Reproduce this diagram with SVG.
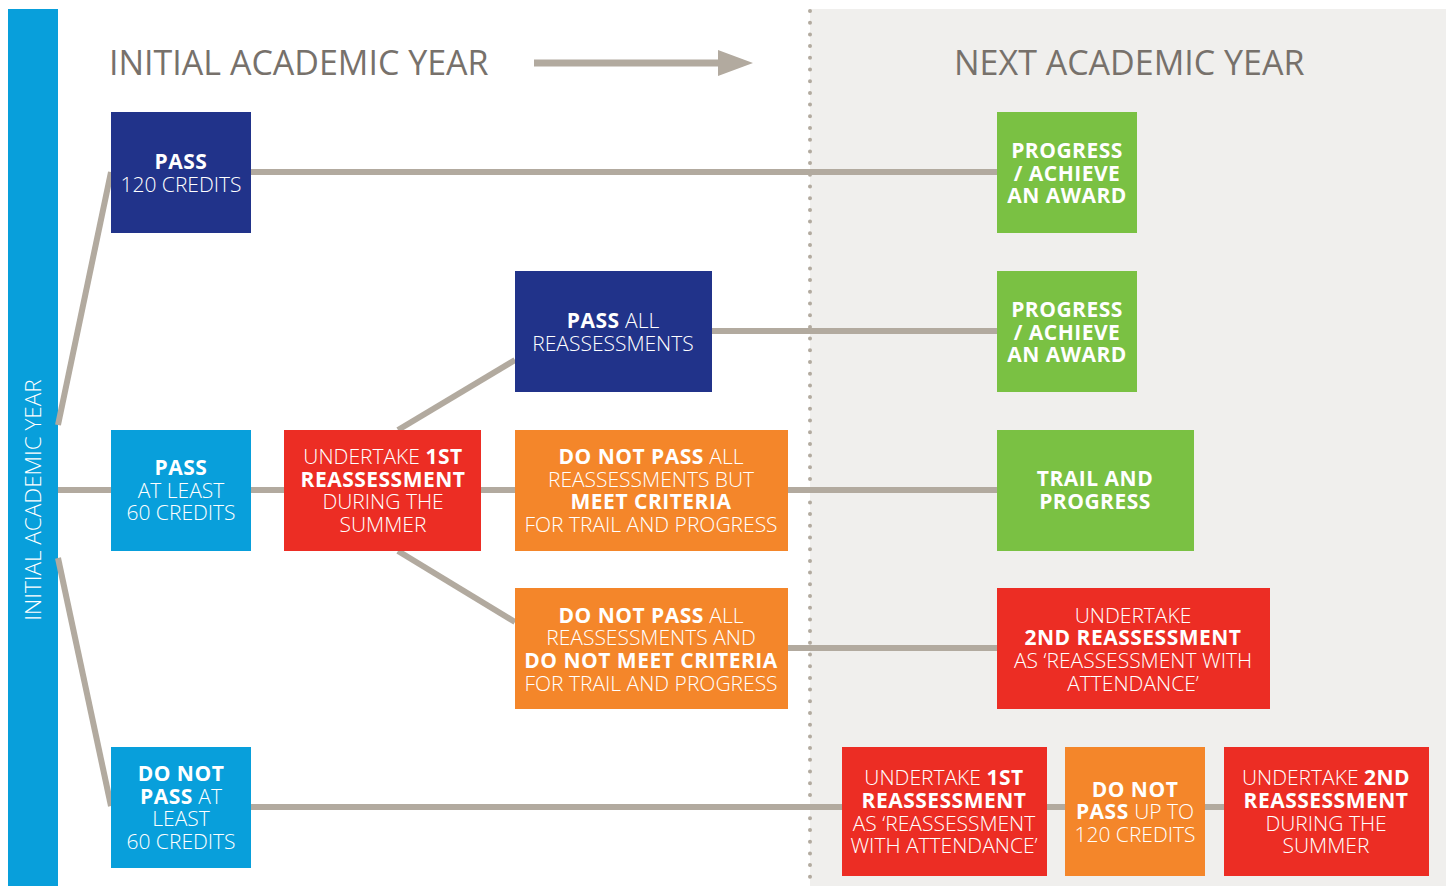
<svg xmlns="http://www.w3.org/2000/svg" width="1453" height="886" viewBox="0 0 1453 886">
<style>
.t{font-family:"Open Sans","Noto Sans","Liberation Sans",sans-serif;font-size:21px;fill:#fff;text-anchor:middle;font-weight:300}
.b{font-weight:700;letter-spacing:0.5px}
.h{font-family:"Open Sans","Noto Sans","Liberation Sans",sans-serif;font-size:34px;fill:#77716b;font-weight:400}
.ln{stroke:#b2aa9f;stroke-width:6;fill:none}
.navy{fill:#21338a}.blue{fill:#089fdb}.red{fill:#ec2d24}.orange{fill:#f4862a}.green{fill:#7ac143}
</style>
<rect width="1453" height="886" fill="#fff"/>
<rect x="810" y="9" width="636" height="877" fill="#f0efed"/>
<line x1="810" y1="11" x2="810" y2="886" stroke="#b2aa9f" stroke-width="4" stroke-linecap="round" stroke-dasharray="0 11.7"/>
<g id="sidebar">
<rect x="8" y="9" width="50" height="877" class="blue"/>
<text class="t" transform="translate(41,500) rotate(-90)" style="font-size:22.5px">INITIAL ACADEMIC YEAR</text>
</g>
<g id="headers">
<text class="h" x="109" y="75">INITIAL ACADEMIC YEAR</text>
<text class="h" x="954" y="75">NEXT ACADEMIC YEAR</text>
<path d="M534 59.5H718V50L753 63L718 76V66.5H534Z" fill="#b2aa9f"/>
</g>
<g id="connectors">
<path class="ln" d="M58 425L111 172"/>
<path class="ln" d="M58 558L111 806"/>
<path class="ln" d="M251 172H997"/>
<path class="ln" d="M712 331H997"/>
<path class="ln" d="M58 490H997"/>
<path class="ln" d="M398 430L515 360"/>
<path class="ln" d="M398 551L515 622"/>
<path class="ln" d="M788 648H997"/>
<path class="ln" d="M251 807H1224"/>
</g>
<g id="pass120">
<rect x="111" y="112" width="140" height="121" class="navy"/>
<text class="t" x="181" y="169"><tspan class="b">PASS</tspan><tspan x="181" y="192">120 CREDITS</tspan></text>
</g>
<g id="progress1">
<rect x="997" y="112" width="140" height="121" class="green"/>
<text class="t b" x="1067" y="158">PROGRESS<tspan x="1067" y="181">/ ACHIEVE</tspan><tspan x="1067" y="203">AN AWARD</tspan></text>
</g>
<g id="passall">
<rect x="515" y="271" width="197" height="121" class="navy"/>
<text class="t" x="613" y="328"><tspan class="b">PASS</tspan> ALL<tspan x="613" y="351">REASSESSMENTS</tspan></text>
</g>
<g id="progress2">
<rect x="997" y="271" width="140" height="121" class="green"/>
<text class="t b" x="1067" y="317">PROGRESS<tspan x="1067" y="340">/ ACHIEVE</tspan><tspan x="1067" y="362">AN AWARD</tspan></text>
</g>
<g id="pass60">
<rect x="111" y="430" width="140" height="121" class="blue"/>
<text class="t" x="181" y="475"><tspan class="b">PASS</tspan><tspan x="181" y="498">AT LEAST</tspan><tspan x="181" y="520">60 CREDITS</tspan></text>
</g>
<g id="undertake1">
<rect x="284" y="430" width="197" height="121" class="red"/>
<text class="t" x="383" y="464">UNDERTAKE <tspan class="b">1ST</tspan><tspan x="383" y="487" class="b">REASSESSMENT</tspan><tspan x="383" y="509">DURING THE</tspan><tspan x="383" y="532">SUMMER</tspan></text>
</g>
<g id="notpassbut">
<rect x="515" y="430" width="273" height="121" class="orange"/>
<text class="t" x="651" y="464"><tspan class="b">DO NOT PASS</tspan> ALL<tspan x="651" y="487">REASSESSMENTS BUT</tspan><tspan x="651" y="509" class="b">MEET CRITERIA</tspan><tspan x="651" y="532">FOR TRAIL AND PROGRESS</tspan></text>
</g>
<g id="trail">
<rect x="997" y="430" width="197" height="121" class="green"/>
<text class="t b" x="1095" y="486">TRAIL AND<tspan x="1095" y="509">PROGRESS</tspan></text>
</g>
<g id="notpassand">
<rect x="515" y="588" width="273" height="121" class="orange"/>
<text class="t" x="651" y="623"><tspan class="b">DO NOT PASS</tspan> ALL<tspan x="651" y="645">REASSESSMENTS AND</tspan><tspan x="651" y="668" class="b">DO NOT MEET CRITERIA</tspan><tspan x="651" y="691">FOR TRAIL AND PROGRESS</tspan></text>
</g>
<g id="undertake2">
<rect x="997" y="588" width="273" height="121" class="red"/>
<text class="t" x="1133" y="623">UNDERTAKE<tspan x="1133" y="645" class="b">2ND REASSESSMENT</tspan><tspan x="1133" y="668">AS ‘REASSESSMENT WITH</tspan><tspan x="1133" y="691">ATTENDANCE’</tspan></text>
</g>
<g id="notpass60">
<rect x="111" y="747" width="140" height="121" class="blue"/>
<text class="t" x="181" y="781"><tspan class="b">DO NOT</tspan><tspan x="181" y="804"><tspan class="b">PASS</tspan> AT</tspan><tspan x="181" y="826">LEAST</tspan><tspan x="181" y="849">60 CREDITS</tspan></text>
</g>
<g id="undertake1att">
<rect x="842" y="747" width="205" height="129" class="red"/>
<text class="t" x="944" y="785">UNDERTAKE <tspan class="b">1ST</tspan><tspan x="944" y="808" class="b">REASSESSMENT</tspan><tspan x="944" y="831">AS ‘REASSESSMENT</tspan><tspan x="944" y="853">WITH ATTENDANCE’</tspan></text>
</g>
<g id="notpass120">
<rect x="1065" y="747" width="140" height="129" class="orange"/>
<text class="t" x="1135" y="797"><tspan class="b">DO NOT</tspan><tspan x="1135" y="819"><tspan class="b">PASS</tspan> UP TO</tspan><tspan x="1135" y="842">120 CREDITS</tspan></text>
</g>
<g id="undertake2summer">
<rect x="1224" y="747" width="205" height="129" class="red"/>
<text class="t" x="1326" y="785">UNDERTAKE <tspan class="b">2ND</tspan><tspan x="1326" y="808" class="b">REASSESSMENT</tspan><tspan x="1326" y="831">DURING THE</tspan><tspan x="1326" y="853">SUMMER</tspan></text>
</g>
</svg>
